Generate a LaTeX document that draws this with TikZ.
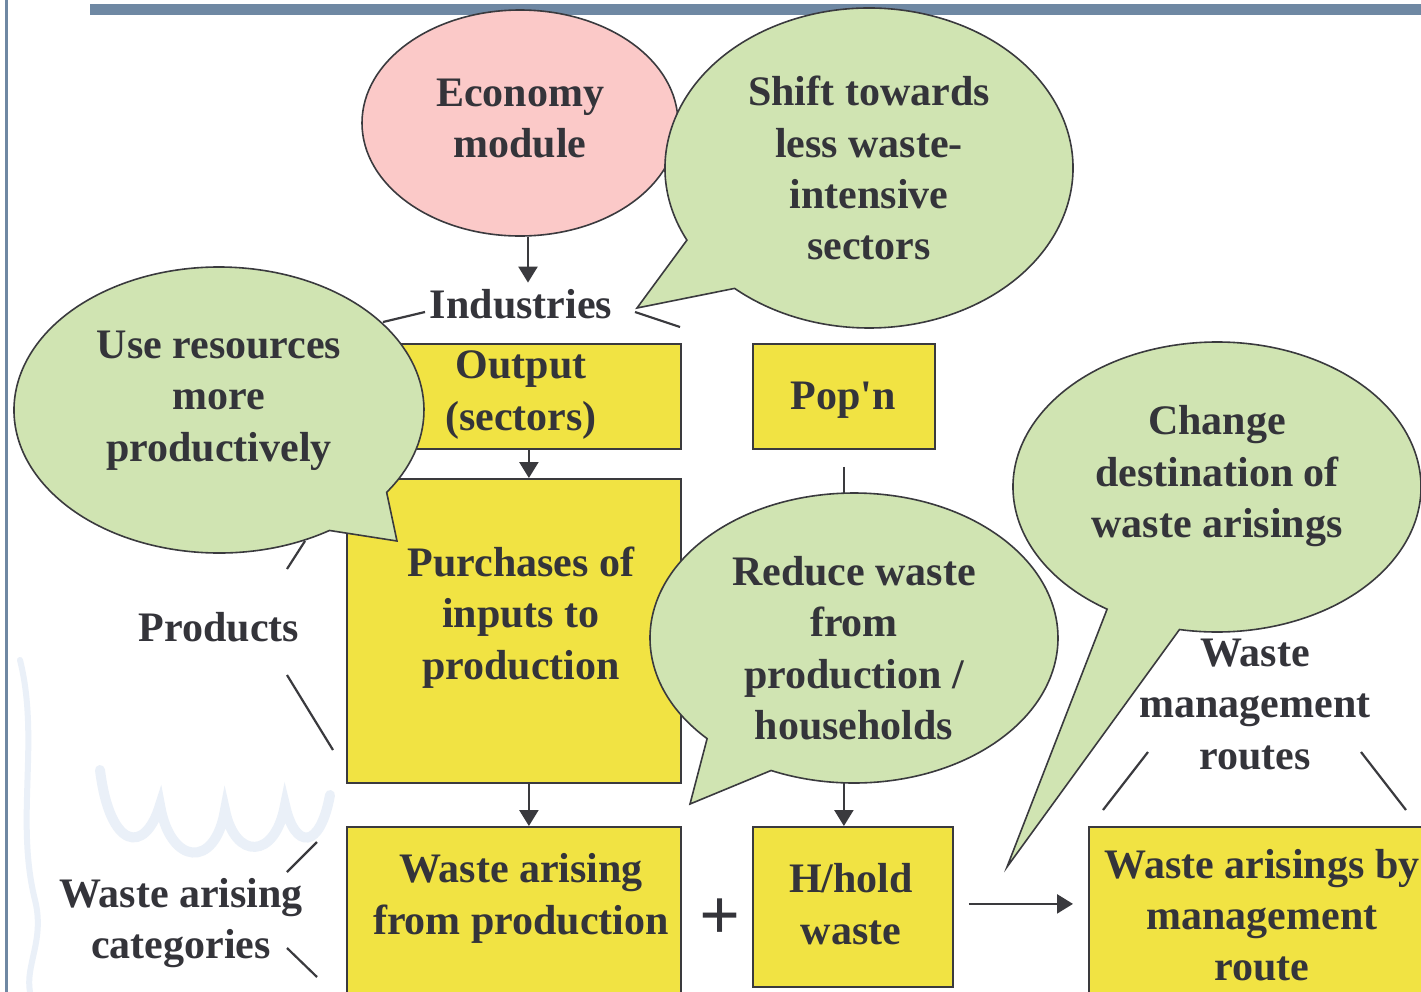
\documentclass[tikz,border=0pt]{standalone}
\usepackage{fontspec}
\setmainfont{Liberation Serif}
\usetikzlibrary{shapes.geometric,arrows.meta}
\definecolor{pinkf}{RGB}{251,201,200}
\definecolor{greenf}{RGB}{208,228,178}
\definecolor{yellowf}{RGB}{241,227,67}
\definecolor{linec}{RGB}{58,58,62}
\definecolor{textc}{RGB}{52,52,58}
\definecolor{barc}{RGB}{111,136,163}
\definecolor{wmark}{RGB}{234,240,248}
\begin{document}
\begin{tikzpicture}[x=0.5pt,y=-0.5pt,
  lbl/.style={font=\fontsize{21}{25.7}\selectfont\bfseries, text=textc, align=center, inner sep=0pt,
    execute at begin node=\strut, execute at end node=\strut},
  ybox/.style={draw=linec, line width=0.9pt, fill=yellowf, inner sep=0pt, anchor=north west},
  bubble/.style={draw=linec, line width=0.8pt, fill=greenf},
  arr/.style={draw=linec, line width=1.2pt, -{Triangle[length=8pt,width=9.5pt]}},
  tickline/.style={draw=linec, line width=1.1pt},
  wm/.style={draw=wmark, line width=5pt, line cap=round},
]
\useasboundingbox (0,0) rectangle (1421,992);
\fill[white] (0,0) rectangle (1421,992);
% faint background watermark
\draw[wm] (100,770) .. controls (110,850) and (145,855) .. (160,805)
  .. controls (170,865) and (215,870) .. (225,810)
  .. controls (235,860) and (275,860) .. (285,805)
  .. controls (295,850) and (320,850) .. (330,795);
\draw[wm, line width=3pt] (20,660) .. controls (40,740) and (15,820) .. (35,900) .. controls (45,940) and (25,965) .. (30,992);

% frame bars
\fill[barc] (90,4) rectangle (1421,15);
\fill[barc] (5,0) rectangle (7.5,992);

% economy ellipse
\node[ellipse, draw=linec, line width=0.8pt, fill=pinkf, minimum width=158pt, minimum height=113pt, inner sep=0pt] (econ) at (520,123) {};

% boxes
\node[ybox, minimum width=159pt, minimum height=52.5pt] (out) at (362,343) {};
\node[ybox, minimum width=91pt, minimum height=52.5pt] (pop) at (752,343) {};
\node[ybox, minimum width=167pt, minimum height=152pt] (purch) at (346,478) {};
\node[ybox, minimum width=167pt, minimum height=87pt] (wprod) at (346,826) {};
\node[ybox, minimum width=100pt, minimum height=80pt] (hh) at (752,826) {};
\node[ybox, minimum width=176pt, minimum height=87pt] (wroute) at (1088,826) {};

% labels outside bubbles
\node[lbl] (indT) at (521,308.7) {Industries};
\node[lbl] (prodT) at (219,631.7) {Products};
\node[lbl] (catT) at (181,926.2) {Waste arising\\categories};
\node[lbl] (wmrT) at (1255,711.7) {Waste\\management\\routes};

% arrows
\draw[arr] ([xshift=4pt]econ.south) -- ([xshift=4pt]econ.south |- indT.north);
\draw[arr] ([xshift=3.5pt]out.south) -- ([xshift=3.5pt]out.south |- purch.north);
\draw[arr] ([xshift=7.5pt]purch.south) -- ([xshift=7.5pt]purch.south |- wprod.north);
\draw[arr] ([yshift=-8.5pt]pop.south) -- (pop.south |- hh.north);
\draw[arr] ([xshift=7.5pt,yshift=1.5pt]hh.east) -- ([xshift=-7.5pt,yshift=1.5pt]hh.east -| wroute.west);

% bracket ticks
\draw[tickline] (383,322) -- (425,312);
\draw[tickline] (635,312) -- (680,327);
\draw[tickline] (287,569) -- (305,541);
\draw[tickline] (287,675) -- (333,750);
\draw[tickline] (287,872) -- (317,842);
\draw[tickline] (287,948) -- (317,977);
\draw[tickline] (1103,810) -- (1148,752);
\draw[tickline] (1361,752) -- (1406,810);

% speech bubbles
\draw[bubble] (869,168) ++(153.2:204 and 160) arc[start angle=153.2, end angle=491.2, x radius=204, y radius=160] -- (637,308) -- cycle;
\draw[bubble] (219,410) ++(57.39:205 and 143) arc[start angle=57.39, end angle=395.14, x radius=205, y radius=143] -- (397,541) -- cycle;
\draw[bubble] (854,638) ++(136.06:204 and 145) arc[start angle=136.06, end angle=473.98, x radius=204, y radius=145] -- (690,804) -- cycle;
\draw[bubble] (1217,487) ++(122.6:204 and 145) arc[start angle=122.6, end angle=460.6, x radius=204, y radius=145] -- (1007,867) -- cycle;

% texts
\node[lbl] (econT) at (520,126.2) {Economy\\module};
\node[lbl] (shiftT) at (869,175.7) {Shift towards\\less waste-\\intensive\\sectors};
\node[lbl] (outT) at (521,398.2) {Output\\(sectors)};
\node[lbl] (popT) at (843,399.7) {Pop\textquotesingle n};
\node[lbl] (useT) at (219,403.7) {Use resources\\more\\productively};
\node[lbl] (purchT) at (521,620.7) {Purchases of\\inputs to\\production};
\node[lbl] (redT) at (854,655.7) {Reduce waste\\from\\production /\\households};
\node[lbl] (chgT) at (1217,479.2) {Change\\destination of\\waste arisings};
\node[lbl] (wprodT) at (521,901.7) {Waste arising\\from production};
\node[lbl] (hhT) at (851,911.7) {H/hold\\waste};
\node[lbl] (wrouteT) at (1262,922.7) {Waste arisings by\\management\\route};
\node[font=\fontsize{36}{40}\selectfont\bfseries, text=textc, inner sep=0pt] (plus) at (720,919) {+};
\end{tikzpicture}
\end{document}
